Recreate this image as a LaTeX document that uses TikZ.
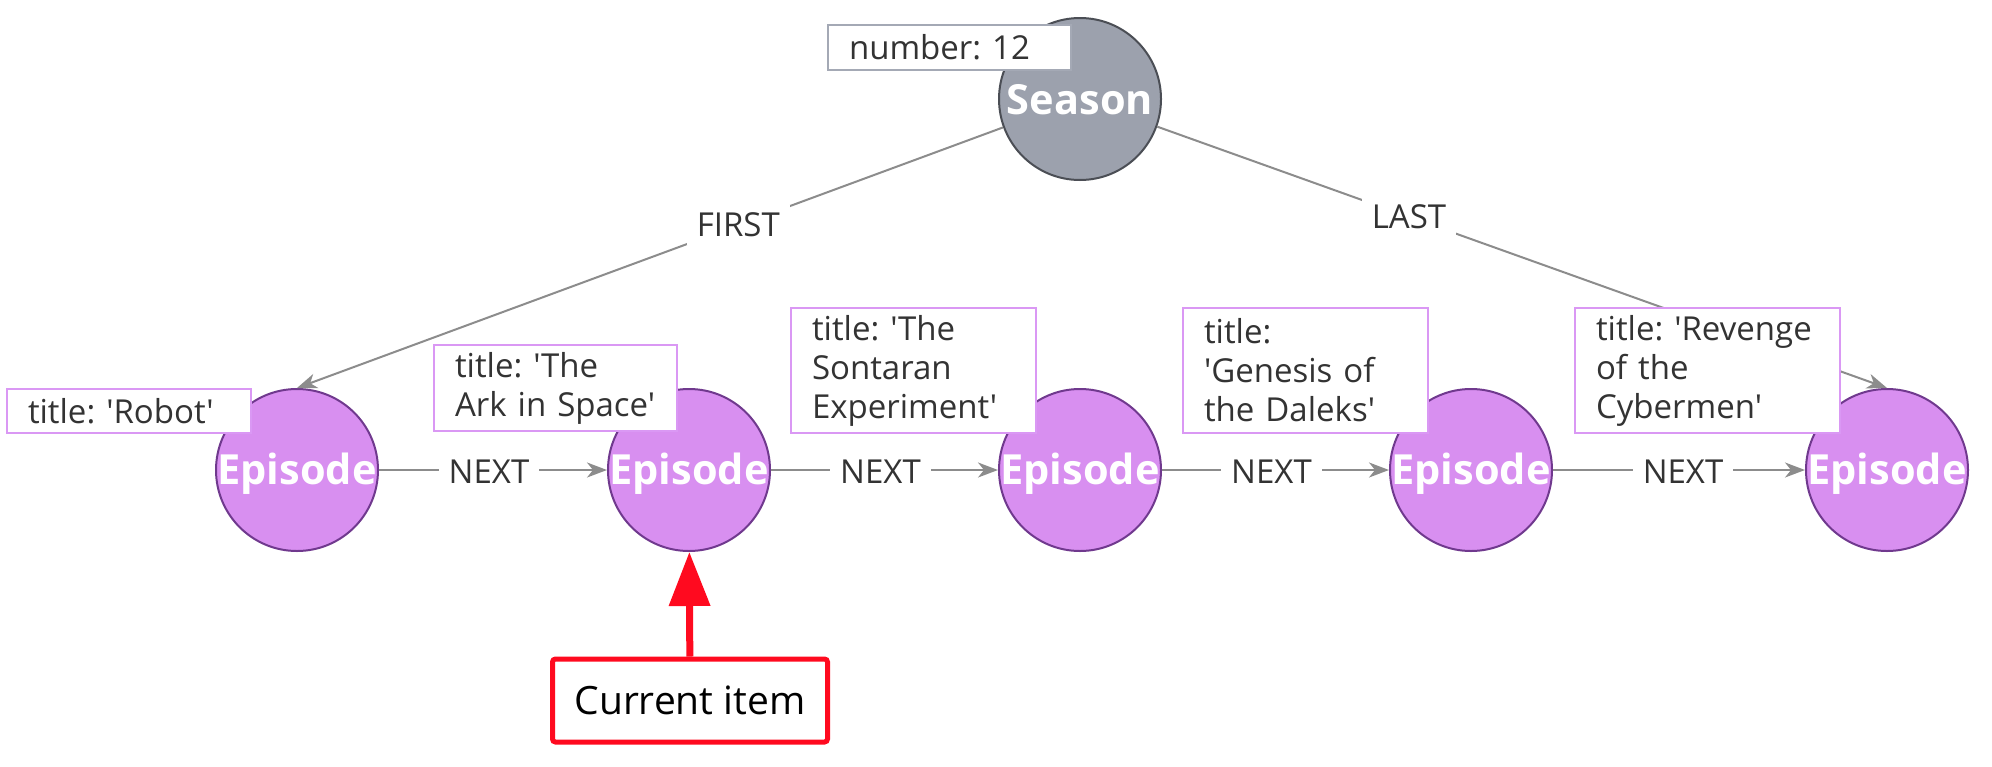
\documentclass[tikz,border=0pt]{standalone}
\usepackage{fontspec}
\setmainfont{Open Sans}[Ligatures=TeXOff]
\usetikzlibrary{arrows.meta}
\definecolor{epfill}{HTML}{D88FF0}
\definecolor{epborder}{HTML}{70398E}
\definecolor{seasonfill}{HTML}{9CA1AD}
\definecolor{seasonborder}{HTML}{4B4E55}
\definecolor{epbox}{HTML}{DA98F4}
\definecolor{seasonbox}{HTML}{A4A9B5}
\definecolor{edgegray}{HTML}{8C8C8C}
\definecolor{txtgray}{HTML}{333333}
\definecolor{curred}{HTML}{FF0A1F}
\newcommand{\nodetext}[2]{\makebox[0pt]{\smash{\raisebox{#1}{#2}}}}
\frenchspacing
\begin{document}
\begin{tikzpicture}[x=0.5pt,y=-0.5pt,
 graphnode/.style={circle, minimum size=81pt, inner sep=0pt, line width=1pt, text=white,
   font=\bfseries\fontsize{20.75pt}{24pt}\selectfont},
 episode/.style={graphnode, fill=epfill, draw=epborder},
 season/.style={graphnode, fill=seasonfill, draw=seasonborder},
 propbox/.style={draw=epbox, fill=white, line width=1pt, anchor=north west, align=left,
   inner xsep=10.5pt, inner ysep=0pt, text=txtgray,
   font=\fontsize{16.5pt}{19.5pt}\selectfont},
 rel/.style={draw=edgegray, line width=1pt, -{Stealth[length=10pt,width=7.5pt,inset=3pt]}},
 rellabel/.style={fill=white, text=txtgray, inner xsep=5pt, inner ysep=4pt,
   font=\fontsize{16.5pt}{19.5pt}\selectfont},
 curbox/.style={draw=curred, line width=2.5pt, rounded corners=1.5pt, fill=white,
   minimum width=137.5pt, minimum height=41.5pt, inner sep=0pt, text=black,
   font=\fontsize{19.5pt}{23pt}\selectfont},
 curarrow/.style={draw=curred, line width=3.5pt, -{Triangle[length=27pt,width=20pt]}},
]
\useasboundingbox (0,0) rectangle (1992,766);
% graph nodes
\node[season]  (season) at (1080,99)  {\nodetext{-7.6pt}{Season}};
\node[episode] (e1)     at (297,470)  {\nodetext{-7.2pt}{Episode}};
\node[episode] (e2)     at (689,470)  {\nodetext{-7.2pt}{Episode}};
\node[episode] (e3)     at (1080,470) {\nodetext{-7.2pt}{Episode}};
\node[episode] (e4)     at (1471,470) {\nodetext{-7.2pt}{Episode}};
\node[episode] (e5)     at (1887,470) {\nodetext{-7.2pt}{Episode}};
% relationships
\draw[rel] (season) -- node[rellabel,pos=0.375] {FIRST} (e1.north);
\draw[rel] (season) -- node[rellabel,pos=0.345] {LAST} (e5.north);
\draw[rel] (e1) -- node[rellabel,yshift=-1pt,xshift=-2pt] {NEXT} (e2);
\draw[rel] (e2) -- node[rellabel,yshift=-1pt,xshift=-2pt] {NEXT} (e3);
\draw[rel] (e3) -- node[rellabel,yshift=-1pt,xshift=-2pt] {NEXT} (e4);
\draw[rel] (e4) -- node[rellabel,yshift=-1pt,xshift=2pt] {NEXT} (e5);
% property boxes
\node[propbox, draw=seasonbox, text width=100.5pt, minimum height=22.5pt] (pnum) at (827,24) {number: 12};
\node[propbox, text width=101pt, minimum height=22pt] (p1) at (6,388) {title: 'Robot'};
\node[propbox, text width=100.5pt, minimum height=43pt] (p2) at (433,344) {title: 'The\\Ark in Space'};
\node[propbox, text width=101.5pt, minimum height=62.5pt] (p3) at (790,307) {title: 'The\\Sontaran\\Experiment'};
\node[propbox, text width=101.5pt, minimum height=62.5pt] (p4) at (1182,307) {title:\\'Genesis of\\the Daleks'};
\node[propbox, text width=111.5pt, minimum height=62.5pt] (p5) at (1574,307) {title: 'Revenge\\of the\\Cybermen'};
% current item marker
\node[curbox] (cur) at (690,700.5) {\raisebox{-1pt}{Current item}};
\draw[curarrow] (cur) -- (e2);
\end{tikzpicture}
\end{document}
